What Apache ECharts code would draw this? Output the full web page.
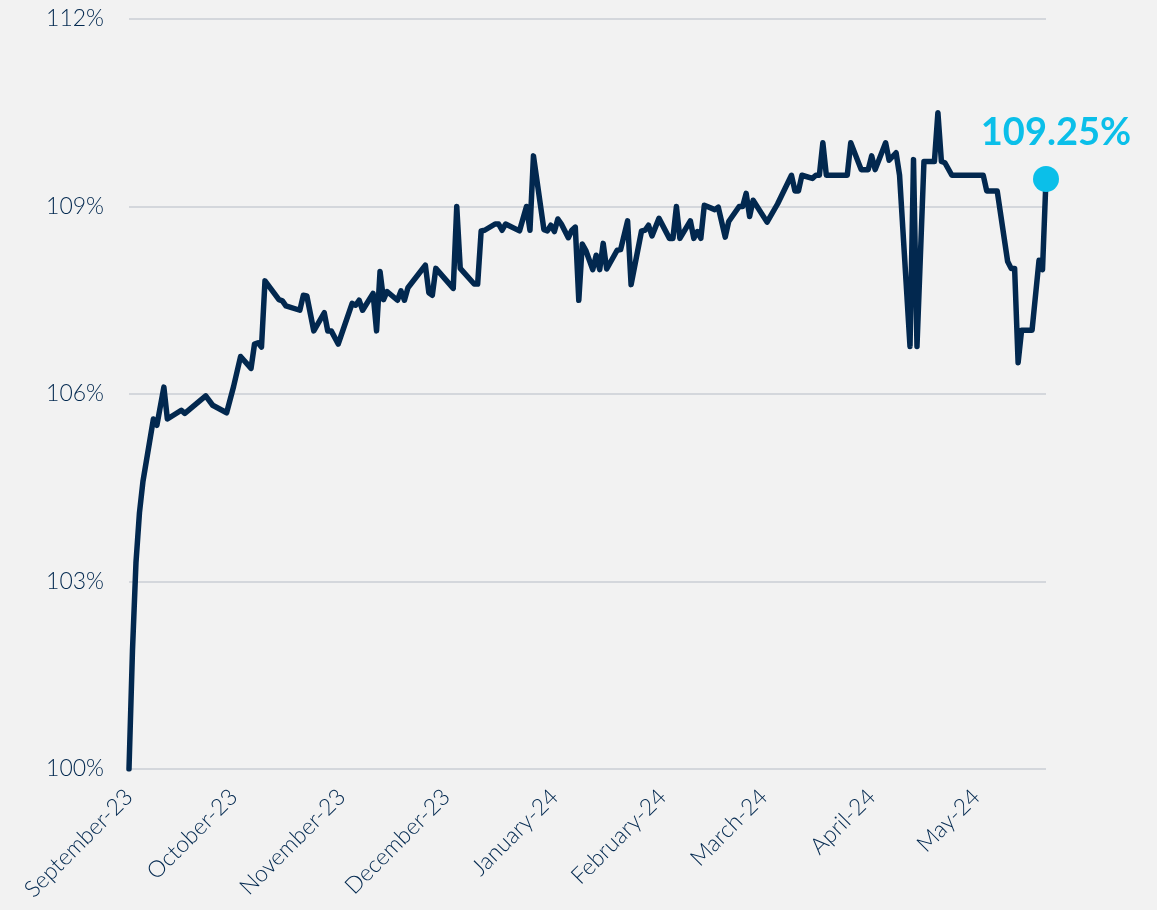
<!DOCTYPE html>
<html>
<head>
<meta charset="utf-8">
<script src="https://cdn.jsdelivr.net/npm/echarts@6/dist/echarts.min.js"></script>
<style>
html,body{margin:0;padding:0;background:#F2F2F2;}
#chart{width:1157px;height:910px;}
</style>
</head>
<body>
<div id="chart"></div>
<script>
const dates = [
 '2023-09-01','2023-09-02','2023-09-03','2023-09-04','2023-09-05','2023-09-08','2023-09-09','2023-09-11','2023-09-12','2023-09-16',
 '2023-09-17','2023-09-23','2023-09-25','2023-09-29','2023-10-01','2023-10-03','2023-10-06','2023-10-07','2023-10-08','2023-10-09',
 '2023-10-10','2023-10-14','2023-10-15','2023-10-16','2023-10-20','2023-10-21','2023-10-22','2023-10-24','2023-10-27','2023-10-28',
 '2023-10-29','2023-10-31','2023-11-04','2023-11-05','2023-11-06','2023-11-07','2023-11-10','2023-11-11','2023-11-12','2023-11-13',
 '2023-11-14','2023-11-17','2023-11-18','2023-11-19','2023-11-20','2023-11-25','2023-11-26','2023-11-27','2023-11-28','2023-12-03',
 '2023-12-04','2023-12-05','2023-12-09','2023-12-10','2023-12-11','2023-12-12','2023-12-15','2023-12-16','2023-12-17','2023-12-18',
 '2023-12-22','2023-12-24','2023-12-25','2023-12-26','2023-12-29','2023-12-30','2023-12-31','2024-01-01','2024-01-02','2024-01-03',
 '2024-01-05','2024-01-06','2024-01-07','2024-01-08','2024-01-09','2024-01-10','2024-01-12','2024-01-13','2024-01-14','2024-01-15',
 '2024-01-16','2024-01-19','2024-01-20','2024-01-22','2024-01-23','2024-01-26','2024-01-27','2024-01-28','2024-01-29','2024-01-31',
 '2024-02-03','2024-02-04','2024-02-05','2024-02-06','2024-02-09','2024-02-10','2024-02-11','2024-02-12','2024-02-13','2024-02-16',
 '2024-02-17','2024-02-19','2024-02-20','2024-02-23','2024-02-24','2024-02-25','2024-02-26','2024-02-27','2024-03-02','2024-03-05',
 '2024-03-09','2024-03-10','2024-03-11','2024-03-12','2024-03-15','2024-03-16','2024-03-17','2024-03-18','2024-03-19','2024-03-25',
 '2024-03-26','2024-03-29','2024-03-31','2024-04-01','2024-04-02','2024-04-05','2024-04-06','2024-04-08','2024-04-09','2024-04-12',
 '2024-04-13','2024-04-14','2024-04-16','2024-04-19','2024-04-20','2024-04-21','2024-04-22','2024-04-24','2024-05-03','2024-05-04',
 '2024-05-07','2024-05-10','2024-05-11','2024-05-12','2024-05-13','2024-05-14','2024-05-17','2024-05-19','2024-05-20','2024-05-21'
];
const values = [
 100.00,101.90,103.30,104.10,104.60,105.60,105.50,106.11,105.60,105.74,
 105.69,105.97,105.82,105.70,106.12,106.60,106.41,106.80,106.82,106.75,
 107.81,107.51,107.49,107.41,107.34,107.58,107.57,107.01,107.30,107.01,
 107.01,106.80,107.45,107.42,107.50,107.34,107.61,107.01,107.96,107.51,
 107.64,107.50,107.65,107.50,107.70,108.06,107.62,107.58,108.01,107.69,
 109.00,108.01,107.76,107.76,108.61,108.62,108.72,108.72,108.62,108.72,
 108.61,109.00,108.62,109.81,108.63,108.61,108.70,108.60,108.80,108.72,
 108.50,108.62,108.67,107.50,108.40,108.30,107.99,108.22,107.99,108.41,
 108.00,108.30,108.31,108.77,107.75,108.61,108.62,108.70,108.53,108.81,
 108.49,108.49,109.00,108.49,108.77,108.49,108.60,108.49,109.02,108.95,
 108.99,108.51,108.76,109.00,109.00,109.21,108.84,109.10,108.75,109.04,
 109.50,109.25,109.25,109.50,109.45,109.50,109.50,110.02,109.50,109.50,
 110.02,109.59,109.59,109.81,109.59,110.02,109.74,109.86,109.50,106.76,
 109.75,106.76,109.72,109.72,110.50,109.72,109.70,109.50,109.50,109.25,
 109.25,108.12,108.01,108.01,106.50,107.02,107.02,108.14,107.99,109.44
];
const monthNames = ['January','February','March','April','May','June','July','August','September','October','November','December'];
const yTicks = [100, 103, 106, 109, 112];
const lastLabel = '109.25%';

const lineData = dates.map((d, i) => [d, values[i]]);
const lastPoint = [[dates[dates.length - 1], values[values.length - 1]]];

const navy = '#02284F';
const cyan = '#0BBFE9';
const font = 'Lato';

const chart = echarts.init(document.getElementById('chart'));
chart.setOption({
  backgroundColor: '#F2F2F2',
  animation: false,
  grid: { left: 129, right: 111, top: 19, bottom: 141, containLabel: false },
  xAxis: {
    type: 'time',
    min: dates[0],
    max: dates[dates.length - 1],
    minInterval: 28 * 86400000,
    maxInterval: 31 * 86400000,
    axisLine: { show: false },
    axisTick: { show: false },
    splitLine: { show: false },
    axisLabel: {
      rotate: 45,
      margin: 24,
      color: navy,
      fontFamily: font,
      fontWeight: 300,
      fontSize: 23,
      hideOverlap: false,
      showMaxLabel: false,
      formatter: function (v) {
        const d = new Date(v);
        return monthNames[d.getMonth()] + '-' + String(d.getFullYear()).slice(2);
      }
    }
  },
  yAxis: {
    type: 'value',
    min: yTicks[0],
    max: yTicks[yTicks.length - 1],
    interval: yTicks[1] - yTicks[0],
    axisLine: { show: false },
    axisTick: { show: false },
    splitLine: { lineStyle: { color: '#D4D7DC', width: 2 } },
    axisLabel: {
      margin: 25,
      color: navy,
      fontFamily: font,
      fontWeight: 300,
      fontSize: 23,
      formatter: '{value}%'
    }
  },
  series: [
    {
      type: 'line',
      data: lineData,
      showSymbol: false,
      symbol: 'none',
      lineStyle: { color: navy, width: 5.5, cap: 'round', join: 'round' },
      z: 2
    },
    {
      type: 'scatter',
      data: lastPoint,
      symbolSize: 26,
      itemStyle: { color: cyan, opacity: 1 },
      z: 3,
      label: {
        show: true,
        position: 'top',
        distance: 14,
        offset: [10, 0],
        formatter: lastLabel,
        color: cyan,
        fontFamily: font,
        fontWeight: 'bold',
        fontSize: 38
      }
    }
  ]
});
</script>
</body>
</html>
